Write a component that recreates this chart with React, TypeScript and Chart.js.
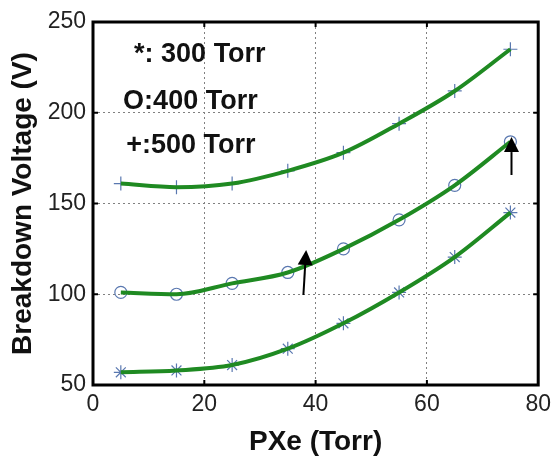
import React, { useEffect, useRef } from "react";
import { Chart, registerables } from "chart.js";

Chart.register(...registerables);

// ---- data ----
const pressureXe = [5, 15, 25, 35, 45, 55, 65, 75];
const torr500 = [161, 159, 161, 168, 178, 194, 212, 235];
const torr400 = [101, 100, 106, 112, 125, 141, 160, 184];
const torr300 = [57, 58, 61, 70, 84, 101, 120.5, 145];

const legendTexts = ["*: 300 Torr", "O:400 Torr", "+:500 Torr"];
const legendX = [19.2, 17.5, 17.6];
const legendY = [231.8, 205.9, 181.7];

// arrows: [tailX, tailY, tipX, tipY] in data units
const arrowTailX = [37.8, 75.2];
const arrowTailY = [99.6, 165.7];
const arrowTipX = [38.3, 75.2];
const arrowTipY = [124.4, 186.6];

const xTicks = [0, 20, 40, 60, 80];
const yTicks = [50, 100, 150, 200, 250];

const FONT = "'Liberation Sans', Arial, Helvetica, sans-serif";
const LINE_GREEN = "#1f8a22";
const MARKER = "#5a78b0";

const toPts = (ys: number[]) => pressureXe.map((x, i) => ({ x, y: ys[i] }));

const overlayPlugin = {
  id: "overlay",
  afterDraw(chart: any) {
    const { ctx, chartArea, scales } = chart;
    const xs = scales.x;
    const ys = scales.y;
    ctx.save();
    // inner tick marks
    ctx.strokeStyle = "#000";
    ctx.lineWidth = 2;
    const tl = 5;
    xTicks.slice(1, -1).forEach((v) => {
      const px = xs.getPixelForValue(v);
      ctx.beginPath();
      ctx.moveTo(px, chartArea.bottom);
      ctx.lineTo(px, chartArea.bottom - tl);
      ctx.moveTo(px, chartArea.top);
      ctx.lineTo(px, chartArea.top + tl);
      ctx.stroke();
    });
    yTicks.slice(1, -1).forEach((v) => {
      const py = ys.getPixelForValue(v);
      ctx.beginPath();
      ctx.moveTo(chartArea.left, py);
      ctx.lineTo(chartArea.left + tl, py);
      ctx.moveTo(chartArea.right, py);
      ctx.lineTo(chartArea.right - tl, py);
      ctx.stroke();
    });
    // frame
    ctx.lineWidth = 3;
    ctx.strokeRect(
      chartArea.left,
      chartArea.top,
      chartArea.right - chartArea.left,
      chartArea.bottom - chartArea.top
    );
    // arrows
    ctx.lineWidth = 2;
    ctx.fillStyle = "#000";
    arrowTailX.forEach((_, i) => {
      const x0 = xs.getPixelForValue(arrowTailX[i]);
      const y0 = ys.getPixelForValue(arrowTailY[i]);
      const x1 = xs.getPixelForValue(arrowTipX[i]);
      const y1 = ys.getPixelForValue(arrowTipY[i]);
      const ang = Math.atan2(y1 - y0, x1 - x0);
      const hl = 15;
      const hw = 7.5;
      const bx = x1 - hl * Math.cos(ang);
      const by = y1 - hl * Math.sin(ang);
      ctx.beginPath();
      ctx.moveTo(x0, y0);
      ctx.lineTo(bx, by);
      ctx.stroke();
      ctx.beginPath();
      ctx.moveTo(x1, y1);
      ctx.lineTo(bx + hw * Math.sin(ang), by - hw * Math.cos(ang));
      ctx.lineTo(bx - hw * Math.sin(ang), by + hw * Math.cos(ang));
      ctx.closePath();
      ctx.fill();
    });
    // legend texts
    ctx.fillStyle = "#111";
    ctx.font = `bold 27px ${FONT}`;
    ctx.textAlign = "center";
    ctx.textBaseline = "middle";
    legendTexts.forEach((t, i) => {
      ctx.fillText(t, xs.getPixelForValue(legendX[i]), ys.getPixelForValue(legendY[i]));
    });
    ctx.restore();
  },
};

const gridColor = (c: any) => {
  const v = c && c.tick ? c.tick.value : null;
  if (v === 0 || v === 80 || v === 50 || v === 250) return "rgba(0,0,0,0)";
  return "#808080";
};

export default function App() {
  const ref = useRef<HTMLCanvasElement | null>(null);
  useEffect(() => {
    if (!ref.current) return;
    const markerDs = (data: number[], style: string, radius: number) => ({
      data: toPts(data),
      showLine: false,
      pointStyle: style,
      pointRadius: radius,
      pointBorderColor: MARKER,
      pointBackgroundColor: "rgba(0,0,0,0)",
      pointBorderWidth: 1.2,
      order: 2,
    });
    const lineDs = (data: number[]) => ({
      data: toPts(data),
      borderColor: LINE_GREEN,
      borderWidth: 4,
      pointRadius: 0,
      tension: 0.4,
      cubicInterpolationMode: "monotone",
      fill: false,
      order: 1,
    });
    const chart = new Chart(ref.current, {
      type: "line",
      data: {
        datasets: [
          markerDs(torr500, "cross", 7),
          markerDs(torr400, "circle", 6),
          markerDs(torr300, "star", 7),
          lineDs(torr500),
          lineDs(torr400),
          lineDs(torr300),
        ] as any,
      },
      options: {
        animation: false,
        responsive: false,
        layout: { padding: { top: 22, right: 15, left: 0, bottom: 0 } },
        plugins: { legend: { display: false }, tooltip: { enabled: false } },
        scales: {
          x: {
            type: "linear",
            min: 0,
            max: 80,
            afterBuildTicks: (s: any) => {
              s.ticks = xTicks.map((v) => ({ value: v }));
            },
            ticks: {
              padding: 6,
              color: "#222",
              font: { size: 23, family: FONT },
            },
            grid: { color: gridColor, lineWidth: 1, drawTicks: false },
            border: { display: false, dash: [2, 3] },
            title: {
              display: true,
              text: "PXe (Torr)",
              color: "#111",
              font: { size: 28, weight: "bold", family: FONT, lineHeight: 1 },
              padding: { top: 0, bottom: 0 },
            },
            afterFit: (s: any) => {
              s.height = 71;
            },
          },
          y: {
            type: "linear",
            min: 50,
            max: 250,
            afterBuildTicks: (s: any) => {
              s.ticks = yTicks.map((v) => ({ value: v }));
            },
            ticks: {
              padding: 7,
              color: "#222",
              font: { size: 23, family: FONT },
            },
            grid: { color: gridColor, lineWidth: 1, drawTicks: false },
            border: { display: false, dash: [2, 3] },
            title: {
              display: true,
              text: "Breakdown Voltage (V)",
              color: "#111",
              font: { size: 28, weight: "bold", family: FONT, lineHeight: 1 },
              padding: { top: 9, bottom: 0 },
            },
            afterFit: (s: any) => {
              s.width = 93;
            },
          },
        },
      } as any,
      plugins: [overlayPlugin],
    });
    return () => chart.destroy();
  }, []);
  return (
    <div style={{ position: "absolute", left: 0, top: 0, width: 557, height: 456, background: "#fff" }}>
      <canvas ref={ref} width={557} height={456} />
    </div>
  );
}
